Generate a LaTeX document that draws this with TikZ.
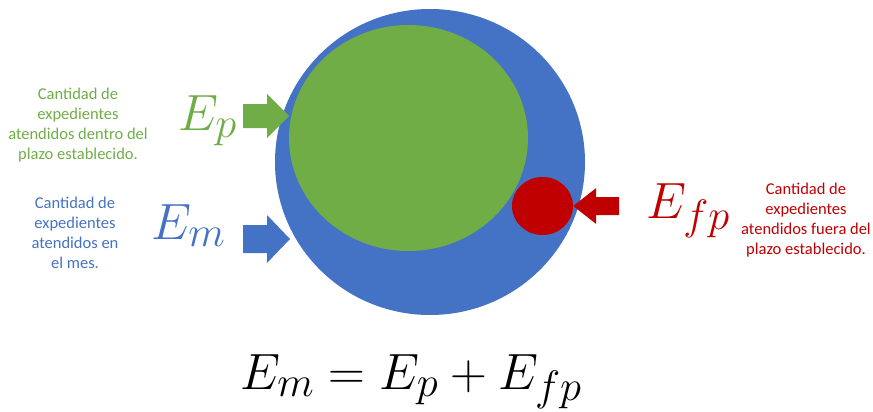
\documentclass[tikz,border=0pt]{standalone}
\usepackage{fontspec}
\setmainfont{Carlito}
\usetikzlibrary{shapes.geometric,positioning}
\definecolor{greenP}{HTML}{70AD47}
\definecolor{blueM}{HTML}{4472C4}
\definecolor{redF}{HTML}{C00000}

\begin{document}
\begin{tikzpicture}[x=1pt, y=-1pt,
    disc/.style={ellipse, inner sep=0pt, draw=none},
    note/.style={align=center, inner sep=0pt, font=\fontsize{16.5}{20}\selectfont},
    symbol/.style={anchor=base west, inner sep=0pt, scale=2.05, font=\Huge}
]
    \useasboundingbox (0,0) rectangle (873,412);

    % sets
    \node[disc, fill=blueM, minimum width=310pt, minimum height=306pt] (total) at (430,162) {};
    \node[disc, fill=greenP, minimum width=239pt, minimum height=226pt] (inside) at (408.5,138) {};
    \node[disc, fill=redF, minimum width=61pt, minimum height=58pt] (outside) at (542.5,206) {};

    % arrow tips
    \coordinate (tipP) at (289,116);
    \coordinate (tipM) at (290,239);
    \coordinate (tipF) at (outside.east);

    % block arrows
    \fill[greenP] (tipP) -- ++(-22,-22) -- ++(0,10) -- ++(-24,0) -- ++(0,24) -- ++(24,0) -- ++(0,10) -- cycle;
    \fill[blueM] (tipM) -- ++(-23,-24) -- ++(0,10) -- ++(-24,0) -- ++(0,28) -- ++(24,0) -- ++(0,10) -- cycle;
    \fill[redF] (tipF) -- ++(23,-18) -- ++(0,9) -- ++(23,0) -- ++(0,18) -- ++(-23,0) -- ++(0,9) -- cycle;

    % symbols
    \node[symbol, text=greenP] (symP) at (178,130) {$E_p$};
    \node[symbol, text=blueM] (symM) at (151,239) {$E_m$};
    \node[symbol, text=redF] (symF) at (646,218) {$E_{fp}$};

    % descriptions
    \node[note, text=greenP] (noteP) at (78,125) {Cantidad de\\expedientes\\atendidos dentro del\\plazo establecido.};
    \node[note, text=blueM] (noteM) at (75,233) {Cantidad de\\expedientes\\atendidos en\\el mes.};
    \node[note, text=redF] (noteF) at (806,220) {Cantidad de\\expedientes\\atendidos fuera del\\plazo establecido.};

    % relation
    \node[symbol] (relation) at (240,389) {$E_m = E_p + E_{fp}$};
\end{tikzpicture}
\end{document}
